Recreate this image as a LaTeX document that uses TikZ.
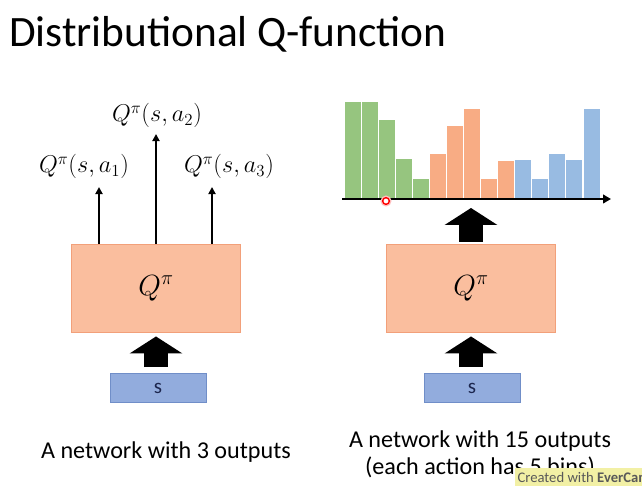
\documentclass[tikz,border=0pt]{standalone}
\usepackage{fontspec}
\setmainfont{Carlito}
\usetikzlibrary{arrows.meta}
\definecolor{qfill}{RGB}{250,190,158}
\definecolor{qline}{RGB}{242,160,122}
\definecolor{sfill}{RGB}{146,172,221}
\definecolor{sline}{RGB}{112,142,200}
\definecolor{sname}{RGB}{28,38,78}
\definecolor{bgreen}{RGB}{150,197,127}
\definecolor{borange}{RGB}{248,172,132}
\definecolor{bblue}{RGB}{152,187,226}
\definecolor{stampfill}{RGB}{242,240,165}
\tikzstyle{title}=[font=\fontsize{37}{44}\selectfont,inner sep=0pt]
\tikzstyle{caption}=[font=\fontsize{20.6}{26}\selectfont,inner sep=0pt,anchor=base]
\tikzstyle{qbox}=[draw=qline,fill=qfill,line width=0.8pt,minimum width=5.07cm,minimum height=2.64cm,inner sep=0pt,font=\fontsize{24}{28}\selectfont]
\tikzstyle{sbox}=[draw=sline,fill=sfill,line width=0.8pt,minimum width=2.88cm,minimum height=0.87cm,inner sep=0pt,font=\fontsize{18}{20}\selectfont,text=sname]
\tikzstyle{qlabel}=[font=\fontsize{21}{25}\selectfont,inner sep=0pt,anchor=base]
\tikzstyle{outarrow}=[draw,line width=1.6pt,-{Triangle[width=6pt,length=6pt]}]
\tikzstyle{blockarrow}=[draw,line width=0.72cm,-{Triangle[width=1.56cm,length=0.51cm]}]
\tikzstyle{bar}=[draw=white,line width=0.8pt]
\tikzstyle{axis}=[draw,line width=2.4pt,-{Triangle[width=0.26cm,length=0.24cm]}]
\tikzstyle{pointer}=[circle,draw=red,line width=1.2pt,fill=white,minimum size=0.2cm,inner sep=0pt,
                     preaction={draw=red!25,line width=3.5pt}]
\tikzstyle{stamp}=[fill=stampfill,font=\fontsize{12.5}{13}\selectfont,text=black!65,inner sep=2pt,minimum height=0.54cm]

\begin{document}
\begin{tikzpicture}[x=0.03cm,y=-0.03cm]
    \useasboundingbox (0,0) rectangle (642,486);
    \clip (0,0) rectangle (642,486);

    \node[title,anchor=base west] (title) at (9,47) {Distributional Q-function};

    % Left: one output per action
    \node[qbox] (qleft) at (156,288) {$Q^\pi$};
    \node[sbox] (sleft) at (158,388) {s};
    \draw[blockarrow,shorten <=0.18cm,shorten >=0.12cm] (qleft.south |- sleft.north) -- (qleft.south);

    \coordinate (a1) at (99,187);
    \coordinate (a2) at (156,134);
    \coordinate (a3) at (212,187);
    \path[outarrow] (qleft.north -| a1) -- (a1);
    \path[outarrow] (qleft.north -| a2) -- (a2);
    \path[outarrow] (qleft.north -| a3) -- (a3);

    \node[qlabel] (la1) at (84,173) {$Q^\pi(s,a_1)$};
    \node[qlabel] (la2) at (157,122) {$Q^\pi(s,a_2)$};
    \node[qlabel] (la3) at (229,173) {$Q^\pi(s,a_3)$};

    \node[caption] (capleft) at (166,458) {A network with 3 outputs};

    % Right: 3 actions x 5 bins
    \foreach \i/\top/\col in {0/101/bgreen, 1/101/bgreen, 2/119/bgreen, 3/158/bgreen, 4/178/bgreen,
                              5/153/borange, 6/125/borange, 7/108/borange, 8/178/borange, 9/160/borange,
                              10/159/bblue, 11/178/bblue, 12/153/bblue, 13/159/bblue, 14/108/bblue}
        \path[bar,fill=\col] (344+\i*17.07,198) rectangle (361+\i*17.07,\top);

    \coordinate (axstart) at (342,199);
    \coordinate (axend) at (611,199);
    \path[axis] (axstart) -- (axend);
    \node[pointer] (mouse) at (386,201) {};

    \node[qbox] (qright) at (471,288) {$Q^\pi$};
    \node[sbox] (sright) at (472,388) {s};
    \coordinate (hist) at (471,199);
    \draw[blockarrow,shorten <=0.18cm,shorten >=0.12cm] (qright.south |- sright.north) -- (qright.south);
    \draw[blockarrow,shorten <=0.06cm,shorten >=0.27cm] (qright.north) -- (hist);

    \node[caption] (capright) at (480,447) {A network with 15 outputs};
    \node[caption] (capbins) at (480,474) {(each action has 5 bins)};

    \node[stamp,anchor=north west] (evercam) at (515,468) {Created with \textbf{EverCam}};
\end{tikzpicture}
\end{document}
